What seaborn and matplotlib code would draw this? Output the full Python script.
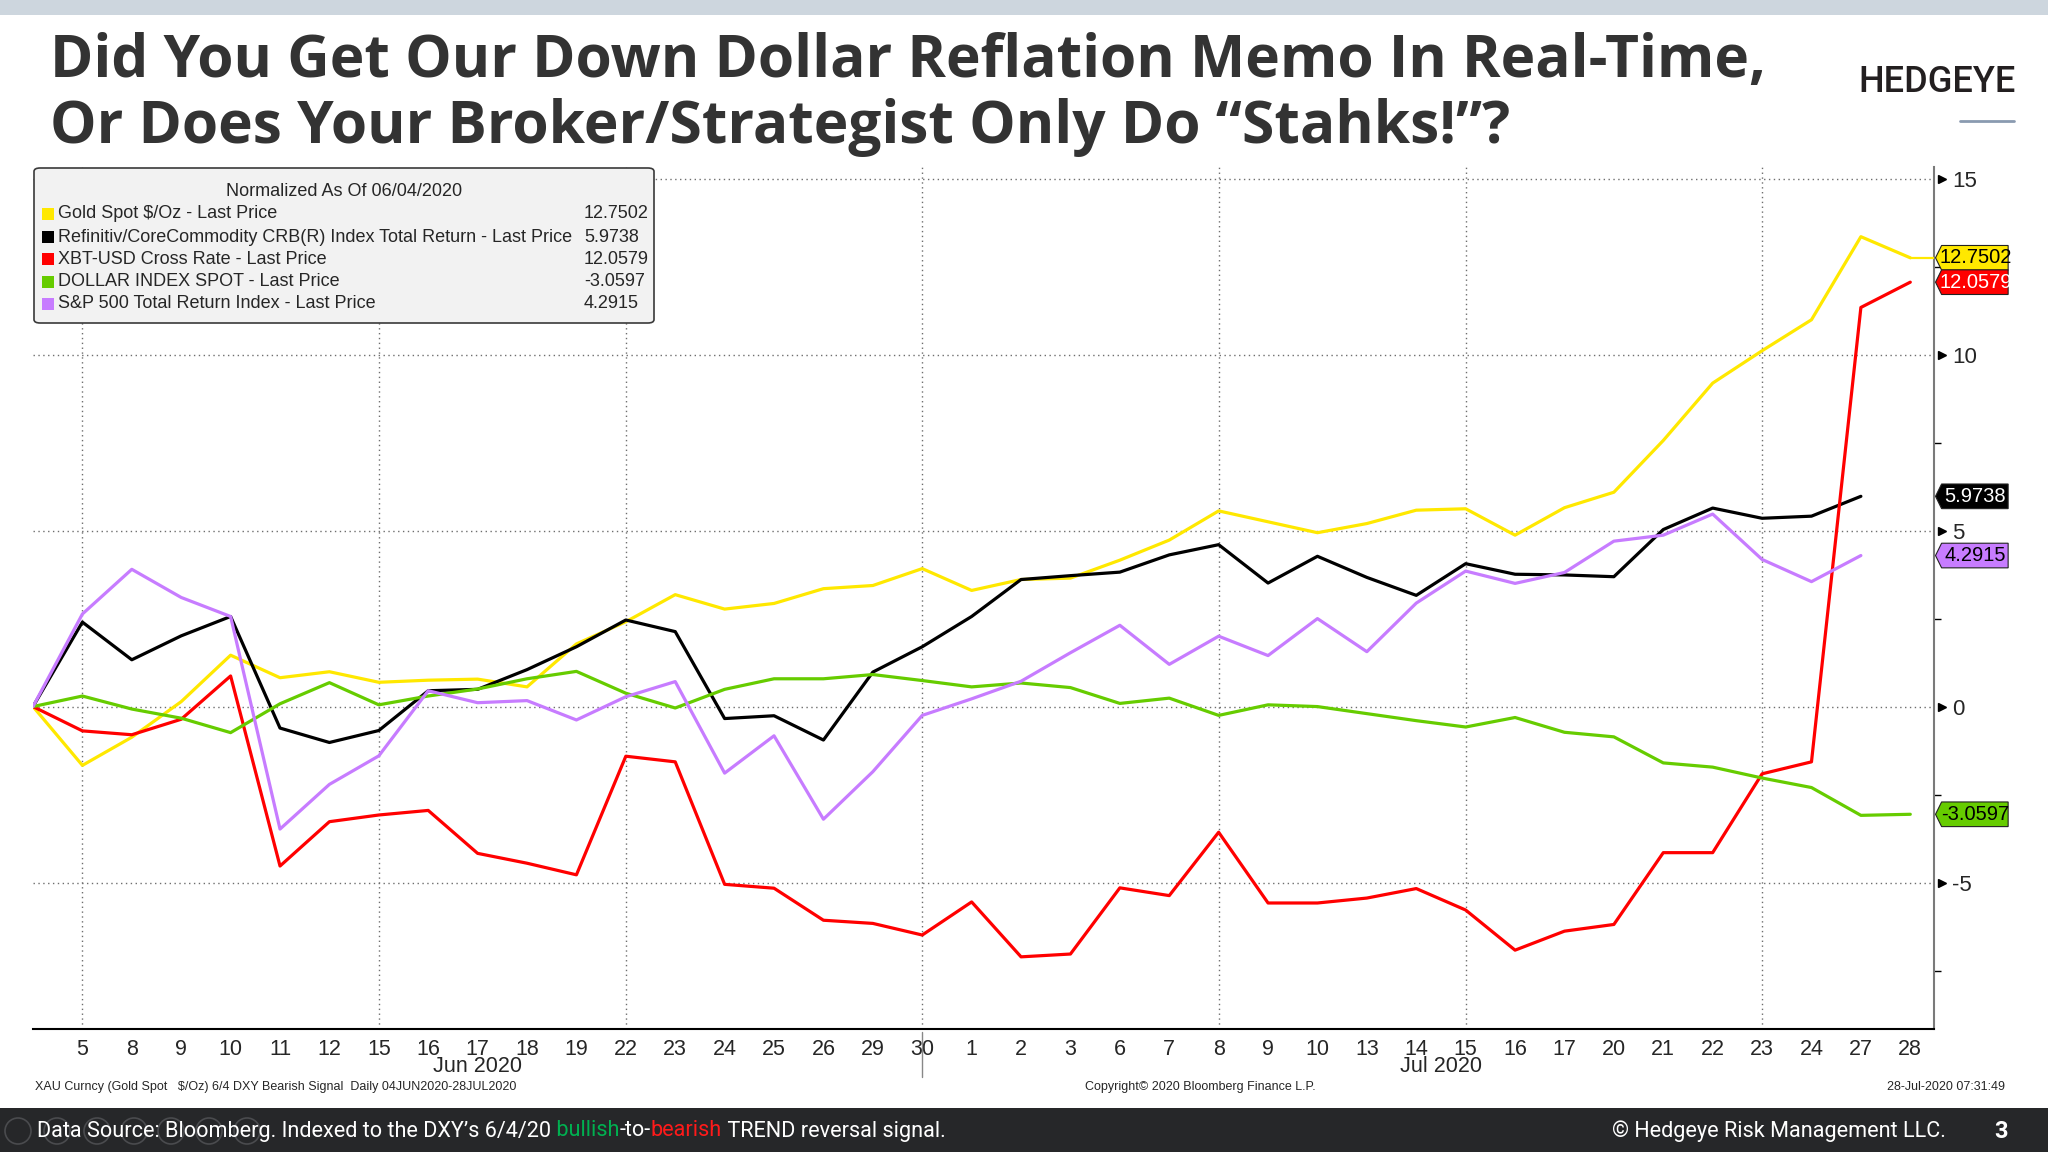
import numpy as np
import pandas as pd
import seaborn as sns
import matplotlib.pyplot as plt
import matplotlib.transforms as mtransforms
from matplotlib.patches import FancyBboxPatch, Polygon, Ellipse, Rectangle
from matplotlib.lines import Line2D

# trading days 04 Jun 2020 - 28 Jul 2020
days = [4, 5, 8, 9, 10, 11, 12, 15, 16, 17, 18, 19, 22, 23, 24, 25, 26, 29, 30,
        1, 2, 3, 6, 7, 8, 9, 10, 13, 14, 15, 16, 17, 20, 21, 22, 23, 24, 27, 28]
months = ['Jun 2020'] * 19 + ['Jul 2020'] * 20

# normalized as of 06/04/2020
gold = [0, -1.67, -0.87, 0.14, 1.46, 0.82, 0.99, 0.69, 0.75, 0.78, 0.56, 1.78, 2.41,
        3.18, 2.77, 2.93, 3.35, 3.44, 3.92, 3.30, 3.61, 3.65, 4.16, 4.73, 5.56, 5.25,
        4.94, 5.20, 5.58, 5.62, 4.87, 5.65, 6.09, 7.56, 9.19, 10.11, 10.99, 13.35, 12.7502]
crb = [0, 2.40, 1.33, 2.01, 2.56, -0.61, -1.02, -0.68, 0.45, 0.49, 1.05, 1.70, 2.46,
       2.13, -0.34, -0.26, -0.95, 0.98, 1.70, 2.56, 3.61, 3.72, 3.82, 4.31, 4.60, 3.51,
       4.27, 3.67, 3.16, 4.06, 3.76, 3.74, 3.69, 5.03, 5.64, 5.35, 5.41, 5.9738, np.nan]
xbt = [0, -0.69, -0.80, -0.36, 0.87, -4.53, -3.27, -3.08, -2.95, -4.17, -4.45, -4.78, -1.41,
       -1.57, -5.05, -5.16, -6.07, -6.16, -6.49, -5.55, -7.11, -7.03, -5.15, -5.37, -3.57, -5.58,
       -5.58, -5.44, -5.17, -5.78, -6.92, -6.38, -6.19, -4.15, -4.15, -1.91, -1.57, 11.34, 12.0579]
dxy = [0, 0.30, -0.07, -0.33, -0.74, 0.08, 0.68, 0.05, 0.30, 0.50, 0.79, 1.00, 0.38,
       -0.04, 0.49, 0.79, 0.79, 0.91, 0.74, 0.56, 0.67, 0.54, 0.09, 0.24, -0.25, 0.05,
       0.00, -0.20, -0.40, -0.58, -0.31, -0.73, -0.86, -1.60, -1.72, -2.03, -2.30, -3.09, -3.0597]
spx = [0, 2.63, 3.90, 3.10, 2.56, -3.48, -2.21, -1.40, 0.45, 0.11, 0.17, -0.38, 0.28,
       0.71, -1.89, -0.83, -3.20, -1.85, -0.25, 0.22, 0.72, 1.53, 2.31, 1.20, 2.00, 1.45,
       2.50, 1.56, 2.94, 3.85, 3.50, 3.81, 4.70, 4.87, 5.47, 4.18, 3.55, 4.2915, np.nan]

names = ['Gold Spot $/Oz - Last Price',
         'Refinitiv/CoreCommodity CRB(R) Index Total Return - Last Price',
         'XBT-USD Cross Rate - Last Price',
         'DOLLAR INDEX SPOT - Last Price',
         'S&P 500 Total Return Index - Last Price']
last_vals = ['12.7502', '5.9738', '12.0579', '-3.0597', '4.2915']
colors = ['#FFE800', '#000000', '#FF0000', '#66CC00', '#C77CFF']
tag_text = ['black', 'white', 'white', 'black', 'black']

W, H = 2048, 1152
def fx(x):
    return x / W
def fy(y):
    return 1 - y / H

sns.set_style('white')
narrow = ['Liberation Sans Narrow', 'DejaVu Sans Condensed', 'Liberation Sans', 'DejaVu Sans']
plt.rcParams['font.family'] = narrow

fig = plt.figure(figsize=(20.48, 11.52), dpi=100)
fig.patch.set_facecolor('white')
ax = fig.add_axes([fx(33), fy(1029), (1934 - 33) / W, (1029 - 167) / H])

long = []
for n, vals in zip(names, [gold, crb, xbt, dxy, spx]):
    long.append(pd.DataFrame({'idx': np.arange(len(days)), 'value': vals, 'series': n}))
long = pd.concat(long)

# draw order: red on top
order = [0, 1, 3, 4, 2]
for k in order:
    d = long[long['series'] == names[k]].dropna()
    sns.lineplot(data=d, x='idx', y='value', color=colors[k], lw=2.3,
                 estimator=None, ax=ax, legend=False, zorder=3 + k)
# gold last price carried to the edge
ax.hlines(gold[-1], len(days) - 1, 38.48, color=colors[0], lw=1.6, zorder=3)

ax.set_xlim(0, 38.48)
ax.set_ylim(-9.16, 15.33)

# grid
for v in [-5, 0, 5, 10, 15]:
    ax.axhline(v, ls=(0, (1, 2.5)), color='#6e6e6e', lw=1, zorder=1)
grid_idx = [1, 7, 12, 18, 24, 29, 35]
for g in grid_idx:
    ax.axvline(g, ls=(0, (1, 2.5)), color='#6e6e6e', lw=1, zorder=1)

ax.set_xlabel('')
ax.set_ylabel('')
ax.set_xticks(range(1, len(days)))
ax.set_xticklabels([str(d) for d in days[1:]])
ax.tick_params(axis='x', length=4, width=1, color='black', labelsize=15.5, pad=3)
ax.yaxis.tick_right()
ax.set_yticks([-5, 0, 5, 10, 15])
ax.set_yticklabels(['-5', '0', '5', '10', '15'])
ax.set_yticks([-7.5, -2.5, 2.5, 7.5, 12.5], minor=True)
ax.tick_params(axis='y', which='major', length=0, labelsize=16, pad=13)
ax.tick_params(axis='y', which='minor', length=5, width=1, color='black', direction='out')
for s in ['top', 'left']:
    ax.spines[s].set_visible(False)
ax.spines['right'].set_color('#7a7a7a')
ax.spines['right'].set_linewidth(1.5)
ax.spines['bottom'].set_color('black')
ax.spines['bottom'].set_linewidth(1.5)

yblend = mtransforms.blended_transform_factory(ax.transAxes, ax.transData)
xblend = mtransforms.blended_transform_factory(ax.transData, ax.transAxes)
ax.plot([1.004] * 5, [-5, 0, 5, 10, 15], ls='none', marker='>', ms=6, color='black',
        transform=yblend, clip_on=False, zorder=10)

# month labels and separator
for m in ['Jun 2020', 'Jul 2020']:
    pos = np.mean([i for i, mm in enumerate(months) if mm == m])
    ax.text(pos, -0.044, m, ha='center', va='center', fontsize=15.5, transform=xblend)
sep = months.index('Jul 2020') - 1
ax.plot([sep, sep], [-0.004, -0.056], color='#888888', lw=1, transform=xblend, clip_on=False)

# right-hand value tags
th = 0.70
for k in range(5):
    v = float(last_vals[k])
    poly = Polygon([(1.0008, v), (1.0040, v + th / 2), (1.0390, v + th / 2),
                    (1.0390, v - th / 2), (1.0040, v - th / 2)], closed=True,
                   facecolor=colors[k], edgecolor='#222222', lw=0.8,
                   transform=yblend, clip_on=False, zorder=12)
    ax.add_patch(poly)
    ax.text(1.0218, v, last_vals[k], ha='center', va='center', fontsize=14.5,
            color=tag_text[k], transform=yblend, zorder=13)

# legend box
box = FancyBboxPatch((fx(34), fy(323)), fx(654) - fx(34), fy(168) - fy(323),
                     boxstyle='round,pad=0,rounding_size=0.003', transform=fig.transFigure,
                     facecolor='#f2f2f2', edgecolor='#3a3a3a', lw=1.2, zorder=20)
fig.add_artist(box)
fig.text(fx(344), fy(192), 'Normalized As Of 06/04/2020', ha='center', va='center',
         fontsize=13, zorder=21)
rows = [214, 237, 259, 282, 304]
for k in range(5):
    fig.add_artist(Rectangle((fx(42), fy(rows[k] + 6)), 12 / W, 12 / H, transform=fig.transFigure,
                             facecolor=colors[k], edgecolor='none', zorder=21))
    fig.text(fx(58), fy(rows[k]), names[k], ha='left', va='center', fontsize=13, zorder=21)
    fig.text(fx(584), fy(rows[k]), last_vals[k], ha='left', va='center', fontsize=13, zorder=21)

# small chart notes
fig.text(fx(35), fy(1087), 'XAU Curncy (Gold Spot   $/Oz) 6/4 DXY Bearish Signal  Daily 04JUN2020-28JUL2020',
         ha='left', va='center', fontsize=9)
fig.text(fx(1200), fy(1087), 'Copyright© 2020 Bloomberg Finance L.P.', ha='center', va='center', fontsize=9)
fig.text(fx(2005), fy(1087), '28-Jul-2020 07:31:49', ha='right', va='center', fontsize=9)

# header
fig.add_artist(Rectangle((0, fy(15)), 1, 15 / H, transform=fig.transFigure,
                         facecolor='#cdd6de', edgecolor='none'))
title_font = ['Open Sans', 'DejaVu Sans']
fig.text(fx(50), fy(77), 'Did You Get Our Down Dollar Reflation Memo In Real-Time,',
         ha='left', va='baseline', fontsize=42.2, weight='bold', color='#333333', family=title_font)
fig.text(fx(50), fy(143), 'Or Does Your Broker/Strategist Only Do \u201cStahks!\u201d?',
         ha='left', va='baseline', fontsize=42.2, weight='bold', color='#333333', family=title_font)
fig.text(fx(2016), fy(83), 'HEDGEYE', ha='right', va='center', fontsize=26, weight='medium',
         color='#231f20', family=['Roboto', 'DejaVu Sans'])
fig.add_artist(Line2D([fx(1960), fx(2014)], [fy(121), fy(121)], color='#8a9ab0', lw=2,
                      transform=fig.transFigure))

# footer
fig.add_artist(Rectangle((0, 0), 1, fy(1108), transform=fig.transFigure,
                         facecolor='#262729', edgecolor='none', zorder=0))
for cx in [18, 57, 97, 134, 171, 209, 247]:
    fig.add_artist(Ellipse((fx(cx), fy(1131)), 26 / W, 26 / H, transform=fig.transFigure,
                           facecolor='none', edgecolor='#4a4b4e', lw=1.2, zorder=1))
foot_font = ['Roboto', 'DejaVu Sans']
t = fig.text(fx(37), fy(1131), 'Data Source: Bloomberg. Indexed to the DXY\u2019s 6/4/20',
             ha='left', va='center', fontsize=15.6, color='white', family=foot_font, zorder=2)
for s, c in [(' bullish', '#00B050'), ('-to-', 'white'), ('bearish', '#FF1A1A'),
             (' TREND reversal signal.', 'white')]:
    t = ax.annotate(s, xy=(1, 0), xycoords=t, ha='left', va='bottom', fontsize=15.6,
                    color=c, family=foot_font, annotation_clip=False, zorder=2)
fig.text(fx(1946), fy(1131), '\u00a9 Hedgeye Risk Management LLC.', ha='right', va='center',
         fontsize=15.6, color='white', family=foot_font)
fig.text(fx(2008), fy(1131), '3', ha='right', va='center', fontsize=17, weight='bold',
         color='white', family=foot_font)

fig.savefig('out.png', dpi=100)
